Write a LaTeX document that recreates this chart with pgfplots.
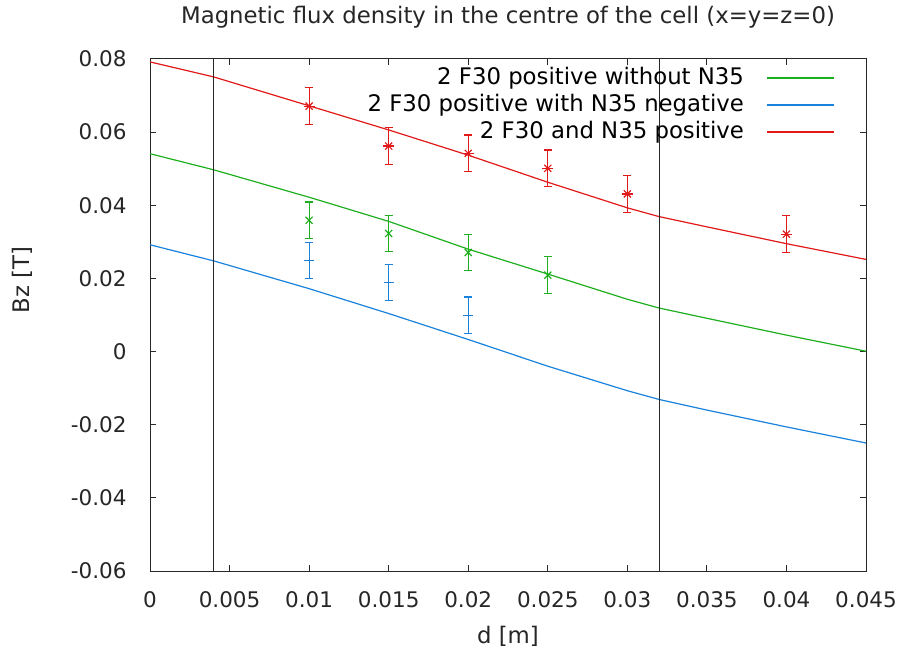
\documentclass[border=0pt]{standalone}
\usepackage{fontspec}
\setmainfont{DejaVu Sans}
\usepackage{pgfplots}
\pgfplotsset{compat=1.18}
\definecolor{gred}{RGB}{225,25,25}
\definecolor{ggreen}{RGB}{30,175,30}
\definecolor{gblue}{RGB}{25,130,220}
\definecolor{gborder}{RGB}{40,40,40}
\newcommand{\lbfont}{\fontsize{11.4pt}{13pt}\selectfont}
\begin{document}
\begin{tikzpicture}[font=\fontsize{10.75pt}{13pt}\selectfont]
\begin{axis}[
  scale only axis,
  width=358pt, height=256pt,
  xmin=0, xmax=0.045, ymin=-0.06, ymax=0.08,
  scaled ticks=false,
  axis line style={gborder, line width=0.5pt},
  every tick/.style={gborder, line width=0.5pt},
  major tick length=3pt,
  tick align=inside,
  xtick={0,0.005,0.01,0.015,0.02,0.025,0.03,0.035,0.04,0.045},
  xticklabels={0,0.005,0.01,0.015,0.02,0.025,0.03,0.035,0.04,0.045},
  ytick={-0.06,-0.04,-0.02,0,0.02,0.04,0.06,0.08},
  yticklabels={-0.06,-0.04,-0.02,0,0.02,0.04,0.06,0.08},
  xticklabel style={anchor=center, inner sep=0pt, yshift=-14.5pt, text=black!85},
  yticklabel style={anchor=east, inner sep=0pt, xshift=-11.5pt, text=black!85},
  legend plot pos=right,
  legend image code/.code={\draw[#1, line width=0.8pt] (0pt,0pt) -- (33.5pt,0pt);},
  legend cell align=right,
  legend style={draw=none, fill=none, inner sep=0pt, at={(axis description cs:0.9567,0.984)}, anchor=north east,
    row sep=3.35pt, column sep=11pt, font=\lbfont, nodes={inner sep=0pt}, cells={anchor=east}},
]
% model curves
\addplot[color=ggreen, line width=0.6pt] coordinates {(0,0.0541) (0.004,0.0497) (0.01,0.0422) (0.015,0.0356) (0.02,0.0280) (0.025,0.0212) (0.03,0.0143) (0.032,0.0119) (0.035,0.0091) (0.04,0.0045) (0.045,0.0001)};
\addlegendentry{2 F30 positive without N35}
\addplot[color=gblue, line width=0.6pt] coordinates {(0,0.0292) (0.004,0.0248) (0.01,0.0172) (0.015,0.0104) (0.02,0.0033) (0.025,-0.0040) (0.03,-0.0107) (0.032,-0.0131) (0.035,-0.0160) (0.04,-0.0206) (0.045,-0.0250)};
\addlegendentry{2 F30 positive with N35 negative}
\addplot[color=gred, line width=0.6pt] coordinates {(0,0.0792) (0.004,0.0751) (0.01,0.0672) (0.015,0.0606) (0.02,0.0537) (0.025,0.0463) (0.03,0.0393) (0.032,0.0369) (0.035,0.0341) (0.04,0.0295) (0.045,0.0252)};
\addlegendentry{2 F30 and N35 positive}
% vertical lines
\addplot[gborder, line width=0.5pt, forget plot] coordinates {(0.004,-0.06) (0.004,0.08)};
\addplot[gborder, line width=0.5pt, forget plot] coordinates {(0.032,-0.06) (0.032,0.08)};
% measurements
\addplot[ggreen, only marks, mark=x, mark size=2.5pt, line width=0.6pt, forget plot,
  error bars/.cd, y dir=both, y explicit, error bar style={line width=0.6pt}, error mark options={rotate=90, mark size=2pt, line width=0.6pt}]
  coordinates {(0.01,0.0359) +- (0,0.005) (0.015,0.0323) +- (0,0.005) (0.02,0.0271) +- (0,0.005) (0.025,0.0209) +- (0,0.005)};
\addplot[gblue, only marks, mark=+, mark size=2.5pt, line width=0.6pt, forget plot,
  error bars/.cd, y dir=both, y explicit, error bar style={line width=0.6pt}, error mark options={rotate=90, mark size=2pt, line width=0.6pt}]
  coordinates {(0.01,0.0249) +- (0,0.005) (0.015,0.0189) +- (0,0.005) (0.02,0.0099) +- (0,0.005)};
\addplot[gred, only marks, mark=x, mark size=2.5pt, line width=0.6pt, forget plot,
  error bars/.cd, y dir=both, y explicit, error bar style={line width=0.6pt}, error mark options={rotate=90, mark size=2pt, line width=0.6pt}]
  coordinates {(0.01,0.0671) +- (0,0.005) (0.015,0.0562) +- (0,0.005) (0.02,0.0542) +- (0,0.005) (0.025,0.0501) +- (0,0.005) (0.03,0.0431) +- (0,0.005) (0.04,0.0321) +- (0,0.005)};
\addplot[gred, only marks, mark=+, mark size=2.8pt, line width=0.6pt, forget plot]
  coordinates {(0.01,0.0671) (0.015,0.0562) (0.02,0.0542) (0.025,0.0501) (0.03,0.0431) (0.04,0.0321)};
\end{axis}
\node[anchor=center, inner sep=0pt, text=black!85, font=\lbfont] at ([yshift=21pt]current axis.north) {Magnetic flux density in the centre of the cell (x=y=z=0)};
\node[anchor=center, inner sep=0pt, text=black!85, font=\lbfont] at ([yshift=-32.5pt]current axis.south) {d [m]};
\node[anchor=center, inner sep=0pt, rotate=90, text=black!85, font=\lbfont] at ([shift={(-64pt,17.5pt)}]current axis.west) {Bz [T]};
\pgfresetboundingbox
\path ([shift={(-75pt,-41.5pt)}]current axis.south west) rectangle ([shift={(17.5pt,29.5pt)}]current axis.north east);
\end{tikzpicture}
\end{document}
